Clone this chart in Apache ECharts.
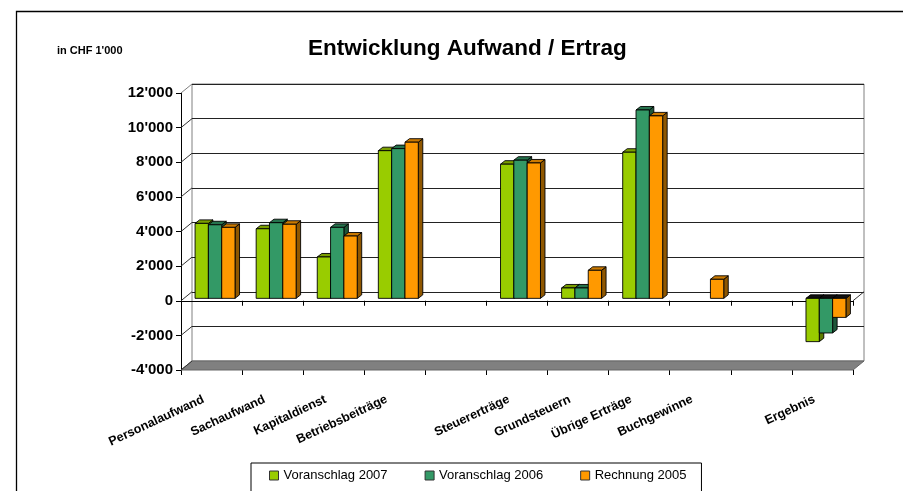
<!DOCTYPE html>
<html>
<head>
<meta charset="utf-8">
<script src="https://cdn.jsdelivr.net/npm/echarts@6/dist/echarts.min.js"></script>
<style>
html,body{margin:0;padding:0;background:#fff;}
#c{width:903px;height:491px;}
</style>
</head>
<body>
<div id="c"></div>
<script>
// ---- data ----
const categories = ['Personalaufwand','Sachaufwand','Kapitaldienst','Betriebsbeiträge','','Steuererträge','Grundsteuern','Übrige Erträge','Buchgewinne','','Ergebnis'];
const voranschlag2007 = [4330, 4020, 2390, 8530, null, 7750, 600, 8440, null, null, -2500];
const voranschlag2006 = [4250, 4370, 4100, 8650, null, 7980, 600, 10880, null, null, -2000];
const rechnung2005    = [4100, 4280, 3600, 9020, null, 7820, 1620, 10540, 1100, null, -1100];
const seriesNames = ['Voranschlag 2007','Voranschlag 2006','Rechnung 2005'];
const yTicks = [-4000,-2000,0,2000,4000,6000,8000,10000,12000];

const FONT = 'Arial, "Liberation Sans", sans-serif';
const front = ['#99CC00','#339966','#FF9900'];
const topC  = ['#7A9E00','#26734D','#CC7A00'];
const sideC = ['#5E7D00','#1D5639','#8F5700'];
const DX = 4.5, DY = 3.5;        // bar depth
const WX = 11, WY = 9;           // wall depth
const SX = 3.5, SY = -2.4;       // bar placement inside the depth

function fmt(v){
  const s = Math.abs(v).toString();
  const t = s.length > 3 ? s.slice(0, s.length-3) + "'" + s.slice(-3) : s;
  return (v < 0 ? '-' : '') + t;
}

function barRender(idx){
  return function(params, api){
    const ci = api.value(0), v = api.value(1);
    const p0 = api.coord([ci, 0]);
    const p1 = api.coord([ci, v]);
    const slot = api.size([1, 0])[0];
    const bw = slot * 0.218;
    const gx = p0[0] + SX - 1.5 * bw + idx * bw;
    const y0 = p0[1] + SY, y1 = p1[1] + SY;
    const top = Math.min(y0, y1), bot = Math.max(y0, y1);
    const neg = v < 0;
    const ls = {stroke:'#000', lineWidth:0.9, lineJoin:'round'};
    return {
      type:'group',
      children:[
        {type:'polygon', shape:{points:[[gx+bw,top],[gx+bw+DX,top-DY],[gx+bw+DX,bot-DY],[gx+bw,bot]]},
          style:Object.assign({fill:sideC[idx]}, ls)},
        {type:'polygon', shape:{points:[[gx,top],[gx+bw,top],[gx+bw+DX,top-DY],[gx+DX,top-DY]]},
          style:Object.assign({fill: neg ? '#111' : topC[idx]}, ls)},
        {type:'rect', shape:{x:gx, y:top, width:bw, height:bot-top},
          style:Object.assign({fill:front[idx]}, ls)}
      ]
    };
  };
}

function decoRender(params, api){
  const cs = params.coordSys;
  const x0 = cs.x, x1 = cs.x + cs.width, yb = cs.y + cs.height;
  const children = [];
  // floor
  children.push({type:'polygon', shape:{points:[[x0,yb],[x1,yb],[x1+WX,yb-WY],[x0+WX,yb-WY]]},
    style:{fill:'#808080', stroke:'#666', lineWidth:1}});
  // side wall lines
  yTicks.forEach(function(t){
    const y = api.coord([0, t])[1];
    children.push({type:'line', shape:{x1:x0, y1:y, x2:x0+WX, y2:y-WY},
      style:{stroke: t === yTicks[yTicks.length-1] ? '#808080' : '#333', lineWidth:1}});
  });
  // right end of zero plane
  const yz = api.coord([0, 0])[1];
  children.push({type:'line', shape:{x1:x1, y1:yz, x2:x1+WX, y2:yz-WY}, style:{stroke:'#333', lineWidth:1}});
  return {type:'group', children:children};
}

const dataOf = arr => arr.map((v,i)=>[i,v]).filter(d => d[1] !== null);

const chart = echarts.init(document.getElementById('c'), null, {renderer:'canvas'});
chart.setOption({
  animation:false,
  backgroundColor:'#fff',
  title:[
    {text:'Entwicklung Aufwand / Ertrag', left:308, top:37, padding:0,
      textStyle:{fontFamily:FONT, fontSize:22.5, fontWeight:'bold', color:'#000'}},
    {text:"in CHF 1'000", left:57, top:45, padding:0,
      textStyle:{fontFamily:FONT, fontSize:11, fontWeight:'bold', color:'#000'}}
  ],
  legend:{
    data:seriesNames, left:251, top:463, orient:'horizontal',
    padding:[6,15,10,18], itemGap:37, itemWidth:9, itemHeight:9, icon:'rect',
    borderColor:'#000', borderWidth:1, backgroundColor:'#fff',
    itemStyle:{borderColor:'#333', borderWidth:1},
    textStyle:{fontFamily:FONT, fontSize:13, color:'#000'}
  },
  graphic:[
    {type:'rect', shape:{x:16.5, y:11.5, width:900, height:500},
      style:{fill:'none', stroke:'#000', lineWidth:1.3}, silent:true, z:100}
  ],
  grid:[
    {left:181, top:93, width:672, height:277, show:false},
    {left:192, top:84, width:672, height:277, show:true, borderColor:'#808080', borderWidth:1, backgroundColor:'#fff'}
  ],
  xAxis:[
    {type:'category', data:categories, gridIndex:0, position:'bottom',
      axisLine:{show:false, onZero:false},
      axisTick:{show:true, interval:0, length:5, lineStyle:{color:'#000'}},
      axisLabel:{interval:0, rotate:25, margin:25, padding:[0,9,0,0], fontFamily:FONT, fontSize:12.5, fontWeight:'bold', color:'#000'},
      splitLine:{show:false}},
    {type:'category', data:categories, gridIndex:0, position:'bottom',
      axisLine:{show:true, onZero:true, lineStyle:{color:'#000', width:1}},
      axisTick:{show:true, interval:0, length:5, lineStyle:{color:'#000'}},
      axisLabel:{show:false}, splitLine:{show:false}},
    {type:'category', data:categories, gridIndex:1, show:false}
  ],
  yAxis:[
    {type:'value', gridIndex:0, min:-4000, max:12000, interval:2000,
      axisLine:{show:true, lineStyle:{color:'#000'}},
      axisTick:{show:true, length:5, lineStyle:{color:'#000'}},
      axisLabel:{margin:8, formatter:fmt, fontFamily:FONT, fontSize:15, fontWeight:'bold', color:'#000'},
      splitLine:{show:false}},
    {type:'value', gridIndex:1, min:-4000, max:12000, interval:2000,
      axisLine:{show:false}, axisTick:{show:false}, axisLabel:{show:false},
      splitLine:{show:true, lineStyle:{color:'#222', width:1}}}
  ],
  series:[
    {type:'custom', name:'deco', xAxisIndex:0, yAxisIndex:0, data:[[0,0]], renderItem:decoRender, silent:true, z:1},
    {type:'custom', name:seriesNames[0], xAxisIndex:0, yAxisIndex:0, data:dataOf(voranschlag2007), renderItem:barRender(0),
      itemStyle:{color:front[0]}, encode:{x:0,y:1}, z:2},
    {type:'custom', name:seriesNames[1], xAxisIndex:0, yAxisIndex:0, data:dataOf(voranschlag2006), renderItem:barRender(1),
      itemStyle:{color:front[1]}, encode:{x:0,y:1}, z:2},
    {type:'custom', name:seriesNames[2], xAxisIndex:0, yAxisIndex:0, data:dataOf(rechnung2005), renderItem:barRender(2),
      itemStyle:{color:front[2]}, encode:{x:0,y:1}, z:2}
  ]
});
</script>
</body>
</html>
